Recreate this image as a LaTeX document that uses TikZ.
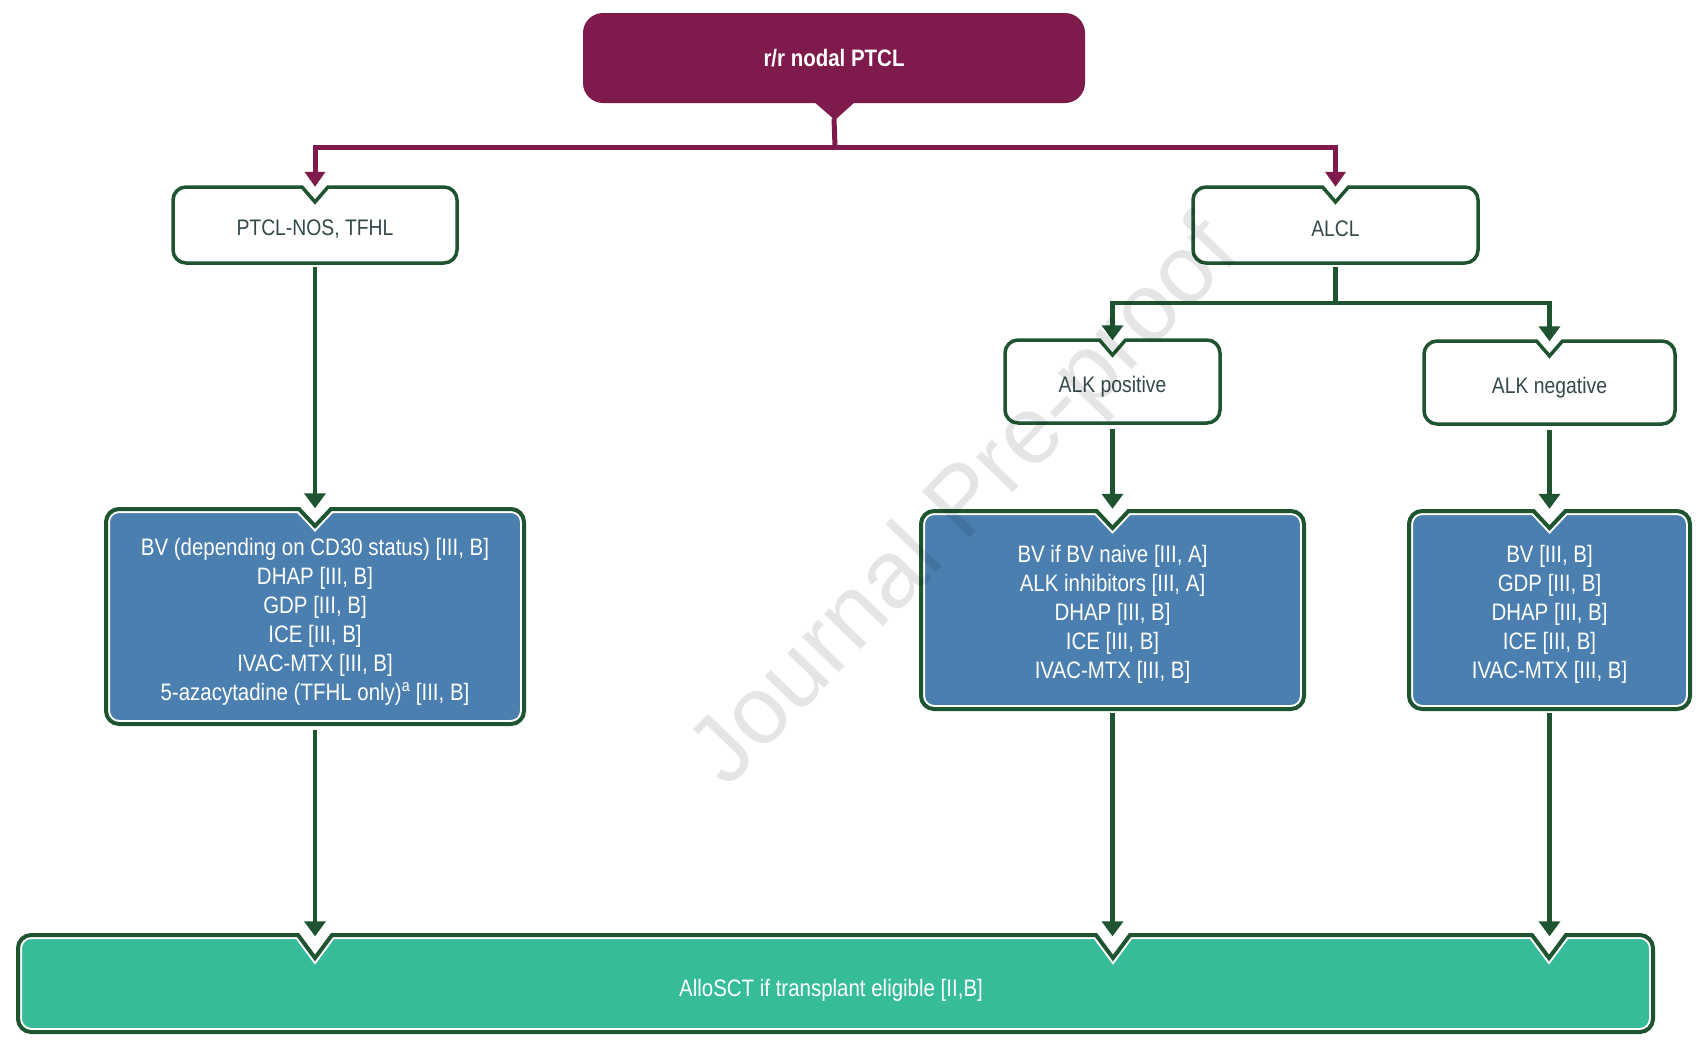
\documentclass[tikz,border=0pt]{standalone}
\usepackage{fontspec}
\setmainfont{Liberation Sans}[FakeStretch=0.86]
\newfontfamily\wmfont{Liberation Sans}
\usetikzlibrary{arrows.meta,calc}
\definecolor{purp}{HTML}{7F1A4D}
\definecolor{dgreen}{HTML}{1E5430}
\definecolor{bfill}{HTML}{4A7FB0}
\definecolor{tfill}{HTML}{37BC9A}
\definecolor{ltext}{HTML}{34494A}
\def\rad{13}
% rounded box with a V notch in the top edge: [opts]{x1}{y1}{x2}{y2}{half width}{depth}
\newcommand{\nbox}[7][]{%
\path[#1] ({#2+\rad},#3) -- ({(#2+#4)/2-#6},#3) -- ({(#2+#4)/2},{#3+#7}) -- ({(#2+#4)/2+#6},#3) -- ({#4-\rad},#3)
 .. controls ({#4-0.45*\rad},#3) and (#4,{#3+0.45*\rad}) .. (#4,{#3+\rad})
 -- (#4,{#5-\rad})
 .. controls (#4,{#5-0.45*\rad}) and ({#4-0.45*\rad},#5) .. ({#4-\rad},#5)
 -- ({#2+\rad},#5)
 .. controls ({#2+0.45*\rad},#5) and (#2,{#5-0.45*\rad}) .. (#2,{#5-\rad})
 -- (#2,{#3+\rad})
 .. controls (#2,{#3+0.45*\rad}) and ({#2+0.45*\rad},#3) .. ({#2+\rad},#3) -- cycle;}
\newcommand{\dbox}[7]{%
\begin{scope}
\nbox[clip]{#2}{#3}{#4}{#5}{#6}{#7}
\nbox[fill=#1]{#2}{#3}{#4}{#5}{#6}{#7}
\nbox[draw=white,line width=8pt]{#2}{#3}{#4}{#5}{#6}{#7}
\end{scope}
\nbox[draw=dgreen,line width=4pt]{#2}{#3}{#4}{#5}{#6}{#7}}
\newcommand{\bpath}[1][]{%
\path[#1] (31,935) -- (298,935) -- (315,958) -- (332,935) -- (1096,935) -- (1113,958) -- (1130,935)
 -- (1532,935) -- (1549,958) -- (1566,935) -- (1640,935)
 .. controls (1647,935) and (1653,941) .. (1653,948) -- (1653,1019)
 .. controls (1653,1026) and (1647,1032) .. (1640,1032) -- (31,1032)
 .. controls (24,1032) and (18,1026) .. (18,1019) -- (18,948)
 .. controls (18,941) and (24,935) .. (31,935) -- cycle;}
\tikzset{
  lab/.style={inner sep=0pt, align=center, font=\fontsize{23.8pt}{29pt}\selectfont},
  wlab/.style={lab, text=ltext, font=\fontsize{22.5pt}{28pt}\selectfont},
  blab/.style={lab, text=white},
  pline/.style={draw=purp, line width=5pt},
  parr/.style={pline, -{Triangle[width=20pt,length=15pt]}},
  gline/.style={draw=dgreen, line width=4.5pt},
  garr/.style={gline, -{Triangle[width=21pt,length=15pt]}},
}
\begin{document}
\begin{tikzpicture}[x=1pt,y=-1pt]
\useasboundingbox (0,0) rectangle (1704,1042);
\fill[white] (0,0) rectangle (1704,1042);
% shapes
\nbox[fill=white,draw=dgreen,line width=3.5pt]{173}{187}{457}{263}{13}{15}
\nbox[fill=white,draw=dgreen,line width=3.5pt]{1193}{187}{1478}{263}{13}{15}
\nbox[fill=white,draw=dgreen,line width=3.5pt]{1005}{340}{1220}{423}{13}{15}
\nbox[fill=white,draw=dgreen,line width=3.5pt]{1424}{341}{1675}{424}{13}{15}
\dbox{bfill}{106}{509}{524}{724}{16}{17}
\dbox{bfill}{921}{511}{1304}{709}{16}{17}
\dbox{bfill}{1409}{511}{1690}{709}{16}{17}
\begin{scope}
\bpath[clip]
\bpath[fill=tfill]
\bpath[draw=white,line width=8pt]
\end{scope}
\bpath[draw=dgreen,line width=4pt]
% nodes
\node[lab, fill=purp, rounded corners=20pt, minimum width=502pt, minimum height=90pt, text=white, font=\bfseries\fontsize{23.8pt}{29pt}\selectfont] (top) at (834,58) {r/r nodal PTCL};
\fill[purp] (813,101) -- (856,101) -- (835,120) -- cycle;
\node[wlab, minimum width=284pt, minimum height=76pt] (ptcl) at (315,229) {PTCL-NOS, TFHL};
\node[wlab, minimum width=285pt, minimum height=76pt] (alcl) at (1335.5,229) {ALCL};
\node[wlab, minimum width=215pt, minimum height=83pt] (alkp) at (1112.5,387) {ALK positive};
\node[wlab, minimum width=251pt, minimum height=83pt] (alkn) at (1549.5,388) {ALK negative};
\node[blab, minimum width=418pt, minimum height=215pt] (blueL) at (315,622) {BV (depending on CD30 status) [III, B]\\DHAP [III, B]\\GDP [III, B]\\ICE [III, B]\\IVAC-MTX [III, B]\\5-azacytadine (TFHL only)\textsuperscript{a} [III, B]};
\node[blab, minimum width=383pt, minimum height=198pt] (blueM) at (1112.5,614) {BV if BV naive [III, A]\\ALK inhibitors [III, A]\\DHAP [III, B]\\ICE [III, B]\\IVAC-MTX [III, B]};
\node[blab, minimum width=281pt, minimum height=198pt] (blueR) at (1549.5,614) {BV [III, B]\\GDP [III, B]\\DHAP [III, B]\\ICE [III, B]\\IVAC-MTX [III, B]};
\node[blab, minimum width=1635pt, minimum height=97pt] (bottom) at (831,990) {AlloSCT if transplant eligible [II,B]};
% connectors
\coordinate (hub1) at (835,147);
\draw[pline] ([yshift=-15pt]top.south) -- (hub1);
\draw[parr] (hub1) -| ([yshift=4pt]ptcl.north);
\draw[parr] (hub1) -| ([yshift=4pt]alcl.north);
\coordinate (hub2) at (1335.5,303);
\draw[gline] (alcl.south) -- (hub2);
\draw[garr] (hub2) -| ([yshift=5pt]alkp.north);
\draw[garr] (hub2) -| ([yshift=5pt]alkn.north);
\draw[garr] (ptcl.south) -- ([yshift=6pt]blueL.north);
\draw[garr] (alkp.south) -- ([yshift=6pt]blueM.north);
\draw[garr] (alkn.south) -- ([yshift=6pt]blueR.north);
\draw[garr] (blueL.south) -- ($(bottom.north -| blueL.south)+(0pt,5pt)$);
\draw[garr] (blueM.south) -- ($(bottom.north -| blueM.south)+(0pt,5pt)$);
\draw[garr] (blueR.south) -- ($(bottom.north -| blueR.south)+(0pt,5pt)$);
% watermark
\node[font=\wmfont\fontsize{96pt}{96pt}\selectfont, text=black, text opacity=0.1, rotate=46] (wm) at (967,505) {Journal Pre-proof};
\end{tikzpicture}
\end{document}
